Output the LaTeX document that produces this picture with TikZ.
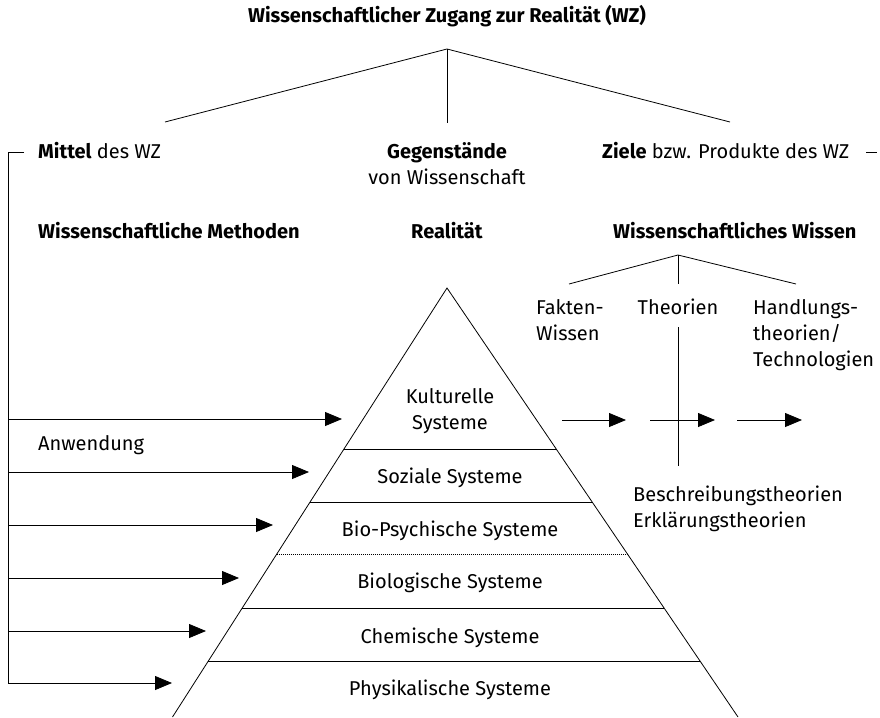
\documentclass[tikz,border=0pt]{standalone}
\usepackage{fontspec}
\setmainfont{Fira Sans}
\usetikzlibrary{arrows.meta,calc}
\begin{document}
\begin{tikzpicture}[x=1pt,y=-1pt,
  ln/.style={line width=0.8pt},
  arr/.style={line width=0.8pt,-{Triangle[length=17pt,width=14pt]}},
  txt/.style={inner sep=0pt,font=\fontsize{20}{26}\selectfont},
  lab/.style={txt,anchor=base},
  labw/.style={txt,anchor=base west}]
\useasboundingbox (0,0) rectangle (880,717);

% ---- top tree
\node[lab] (title) at (447,23) {\textbf{Wissenschaftlicher Zugang zur Realität (WZ)}};
\coordinate (top) at (447,49);
\coordinate (tl) at (165,122);
\coordinate (tc) at (447,123);
\coordinate (tr) at (730,122);
\draw[ln] (tl) -- (top) -- (tr);
\draw[ln] (top) -- (tc);

% ---- second row
\node[labw] (mittel) at (38,158) {\textbf{Mittel} des WZ};
\node[lab] (geg) at (447,158) {\textbf{Gegenstände}};
\node[lab] (vonw) at (447,184) {von Wissenschaft};
\node[labw] (ziele) at (602,158) {\textbf{Ziele} bzw. Produkte des WZ};
\coordinate (lt1) at (8,152);
\coordinate (lt2) at (24,152);
\coordinate (rt1) at (866,152);
\coordinate (rt2) at (877,152);
\draw[ln] (rt1) -- (rt2);

\node[labw] (meth) at (38,238) {\textbf{Wissenschaftliche Methoden}};
\node[lab] (real) at (447,238) {\textbf{Realität}};
\node[labw] (wiss) at (613,238) {\textbf{Wissenschaftliches Wissen}};

% ---- knowledge sub-tree
\coordinate (wtop) at (678,255);
\coordinate (wl) at (569,284);
\coordinate (wc) at (678,284);
\coordinate (wr) at (796,284);
\draw[ln] (wl) -- (wtop) -- (wr);
\draw[ln] (wtop) -- (wc);
\node[labw] (fak1) at (536,314) {Fakten-};
\node[labw] (fak2) at (536,340) {Wissen};
\node[lab] (theo) at (678,314) {Theorien};
\node[labw] (hand1) at (753,314) {Handlungs-};
\node[labw] (hand2) at (753,340) {theorien/};
\node[labw] (hand3) at (753,366) {Technologien};
\coordinate (tv1) at (678,327);
\coordinate (tv2) at (678,466);
\draw[ln] (tv1) -- (tv2);
\node[labw] (besch) at (633,501) {Beschreibungstheorien};
\node[labw] (erkl) at (633,527) {Erklärungstheorien};

% right arrows
\coordinate (ra1s) at (562,420); \coordinate (ra1e) at (626,420);
\coordinate (ra2s) at (650,420); \coordinate (ra2e) at (715,420);
\coordinate (ra3s) at (737,420); \coordinate (ra3e) at (802,420);
\draw[arr] (ra1s) -- (ra1e);
\draw[arr] (ra2s) -- (ra2e);
\draw[arr] (ra3s) -- (ra3e);

% ---- pyramid
\coordinate (apex) at (447,288);
\coordinate (bl) at (172.5,717);
\coordinate (br) at (738,717);
\draw[ln] (bl) -- (apex) -- (br);
\foreach \t/\n in {0.3753/a,0.4988/b,0.8695/e,0.7459/d}{
  \draw[ln] ($(apex)!\t!(bl)$) -- ($(apex)!\t!(br)$);
}
\draw[line width=0.6pt,dash pattern=on 1pt off 1pt] ($(apex)!0.6200!(bl)$) -- ($(apex)!0.6200!(br)$);

\node[lab] (k1) at (450,403) {Kulturelle};
\node[lab] (k2) at (450,429) {Systeme};
\node[lab] (soz) at (450,483) {Soziale Systeme};
\node[lab] (bps) at (450,536) {Bio-Psychische Systeme};
\node[lab] (bio) at (450,588) {Biologische Systeme};
\node[lab] (chem) at (450,643) {Chemische Systeme};
\node[lab] (phys) at (450,695) {Physikalische Systeme};

% ---- left bracket and arrows
\coordinate (lb) at (8,683);
\draw[ln] (lt2) -- (lt1) -- (lb);
\node[labw] (anw) at (38,450) {Anwendung};
\foreach \y/\x/\n in {419/342/1,472/309/2,525/273/3,578/239/4,631/206/5,683/172/6}{
  \coordinate (la\n s) at (8,\y);
  \coordinate (la\n e) at (\x,\y);
  \draw[arr] (la\n s) -- (la\n e);
}
\end{tikzpicture}
\end{document}
